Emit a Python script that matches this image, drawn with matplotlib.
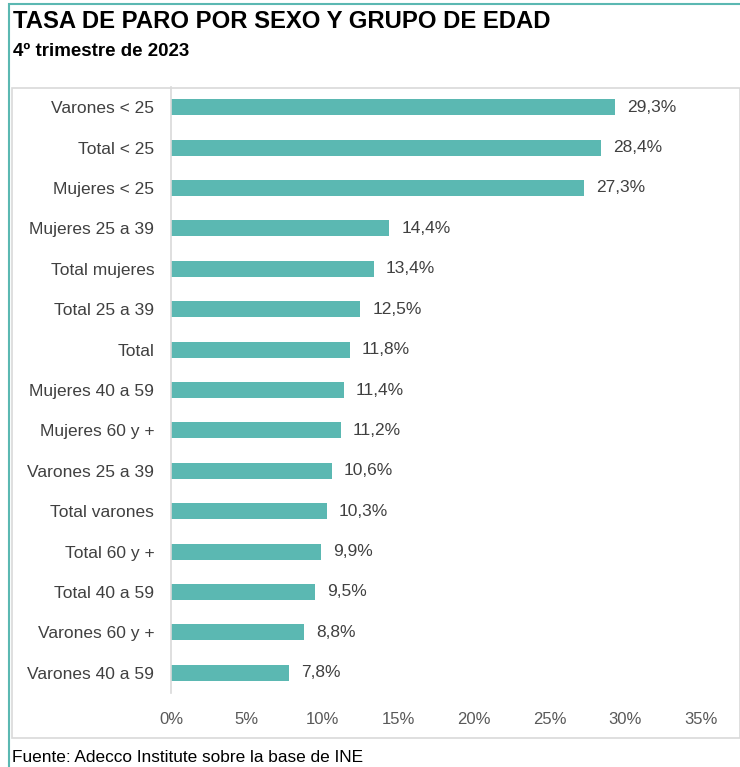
import numpy as np
import matplotlib.pyplot as plt
from matplotlib.patches import Rectangle

# datos
categorias = ['Varones < 25', 'Total < 25', 'Mujeres < 25', 'Mujeres 25 a 39',
              'Total mujeres', 'Total 25 a 39', 'Total', 'Mujeres 40 a 59',
              'Mujeres 60 y +', 'Varones 25 a 39', 'Total varones', 'Total 60 y +',
              'Total 40 a 59', 'Varones 60 y +', 'Varones 40 a 59']
valores = [29.3, 28.4, 27.3, 14.4, 13.4, 12.5, 11.8, 11.4, 11.2, 10.6, 10.3, 9.9, 9.5, 8.8, 7.8]
ticks_x = [0, 5, 10, 15, 20, 25, 30, 35]

titulo = 'TASA DE PARO POR SEXO Y GRUPO DE EDAD'
subtitulo = '4º trimestre de 2023'
fuente = 'Fuente: Adecco Institute sobre la base de INE'

plt.rcParams['font.family'] = ['Liberation Sans', 'DejaVu Sans']

W, H = 740, 767
fig = plt.figure(figsize=(W / 100, H / 100), dpi=100)

# marcos
fig.patches.append(Rectangle((12 / W, 1 - 738 / H), (W - 12) / W, (738 - 88) / H,
                             transform=fig.transFigure, fill=False,
                             edgecolor='#D9D9D9', linewidth=1.2))
fig.patches.append(Rectangle((9 / W, -0.01), 1.0, 1 - 4 / H + 0.01,
                             transform=fig.transFigure, fill=False,
                             edgecolor='#5BB8B2', linewidth=1.5))

ax = fig.add_axes([171 / W, 1 - 693 / H, (701 - 171) / W, (693 - 87) / H])
y = np.arange(len(categorias))
ax.barh(y, valores, height=0.4, color='#5BB8B2')
for yi, v in zip(y, valores):
    ax.text(v + 0.8, yi, f'{v:.1f}%'.replace('.', ','), va='center', ha='left',
            fontsize=12.5, color='#404040')

ax.set_ylim(len(categorias) - 0.5, -0.5)
ax.set_xlim(0, 35)
ax.set_yticks(y)
ax.set_yticklabels(categorias, fontsize=12.5, color='#404040')
ax.set_xticks(ticks_x)
ax.set_xticklabels([f'{t}%' for t in ticks_x], fontsize=12, color='#595959')
ax.tick_params(axis='both', length=0)
ax.tick_params(axis='y', pad=12)
ax.tick_params(axis='x', pad=14)
for s in ['top', 'right', 'bottom']:
    ax.spines[s].set_visible(False)
ax.spines['left'].set_color('#D9D9D9')
ax.spines['left'].set_linewidth(1.2)

fig.text(13 / W, 1 - 22 / H, titulo, fontsize=17.2, fontweight='bold',
         va='center', ha='left', color='black')
fig.text(13 / W, 1 - 52 / H, subtitulo, fontsize=13.5, fontweight='bold',
         va='center', ha='left', color='black')
fig.text(12 / W, 1 - 757 / H, fuente, fontsize=12.4,
         va='center', ha='left', color='black')

fig.savefig('out.png', dpi=100)
